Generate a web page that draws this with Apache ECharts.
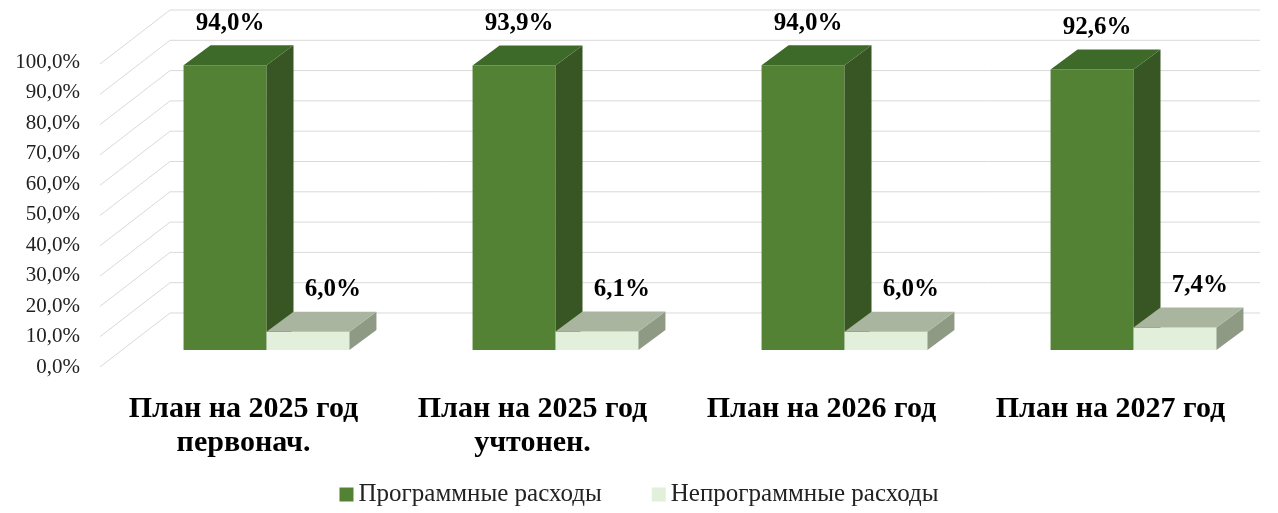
<!DOCTYPE html>
<html><head><meta charset="utf-8">
<script src="https://cdn.jsdelivr.net/npm/echarts@6/dist/echarts.min.js"></script>
<style>html,body{margin:0;padding:0;background:#fff}#c{width:1278px;height:513px}</style>
</head><body><div id="c"></div>
<script>
const categories = ['План на 2025 год\nпервонач.', 'План на 2025 год\nучтонен.', 'План на 2026 год', 'План на 2027 год'];
const programValues = [94.0, 93.9, 94.0, 92.6];
const nonProgramValues = [6.0, 6.1, 6.0, 7.4];
const tickValues = [0,10,20,30,40,50,60,70,80,90,100];
const seriesNames = ['Программные расходы', 'Непрограммные расходы'];

const FONT = '"Liberation Serif","Times New Roman",serif';
const styles = [
  {front:'#548235', side:'#375623', top:'#3e6a29', lab:5},
  {front:'#e2efda', side:'#8f9a85', top:'#aab5a0', lab:25}
];
const fmt = v => v.toFixed(1).replace('.', ',') + '%';

function barRenderer(s) {
  return function (params, api) {
    const cat = api.value(0), val = api.value(1);
    const top = api.coord([cat, val]);
    const base = api.coord([cat, 0]);
    const band = api.size([1, 0])[0];
    const w = band * 0.287;
    const x0 = top[0] - w + s * w;
    const yT = top[1], yB = base[1];
    const dx = 27, dy = 20;
    const st = styles[s];
    return {type:'group', children:[
      {type:'rect', shape:{x:x0, y:yT, width:w, height:yB-yT}, style:{fill:st.front}},
      {type:'polygon', shape:{points:[[x0+w,yT],[x0+w+dx,yT-dy],[x0+w+dx,yB-dy],[x0+w,yB]]}, style:{fill:st.side}},
      {type:'polygon', shape:{points:[[x0,yT],[x0+dx,yT-dy],[x0+w+dx,yT-dy],[x0+w,yT]]}, style:{fill:st.top}},
      {type:'text', style:{x:x0+w/2+st.lab, y:yT-42, text:fmt(val), align:'center', verticalAlign:'middle',
        font:'bold 25px '+FONT, fill:'#000'}}
    ]};
  };
}

const chart = echarts.init(document.getElementById('c'));
chart.setOption({
  animation:false,
  legend:{top:477, left:'center', itemWidth:14, itemHeight:14, itemGap:50, icon:'rect',
    data:seriesNames, textStyle:{fontFamily:FONT, fontSize:25, color:'#222'}},
  grid:[{left:122, right:0, top:47, bottom:163},
        {left:82, width:1, top:62, bottom:146}],
  xAxis:[{type:'category', data:categories, show:false, gridIndex:0},
         {type:'value', show:false, gridIndex:1}],
  yAxis:[{type:'value', min:0, max:100, show:false, gridIndex:0},
         {type:'value', min:0, max:100, interval:10, gridIndex:1, axisLine:{show:false}, axisTick:{show:false},
          splitLine:{show:false}, axisLabel:{formatter:fmt, fontFamily:FONT, fontSize:21, color:'#222', margin:2}}],
  series:[
    {type:'custom', silent:true, z:1, data:tickValues.map(v=>[0,v]),
     renderItem:(params, api)=>{
       const y = api.coord([0, api.value(1)])[1];
       const gx = params.coordSys.x;
       const st = {stroke:'#d9d9d9', lineWidth:1};
       return {type:'group', children:[
         {type:'line', shape:{x1:gx-22, y1:y+17, x2:gx+48, y2:y-37}, style:st},
         {type:'line', shape:{x1:gx+48, y1:y-37, x2:1260, y2:y-37}, style:st}
       ]};
     }},
    {type:'custom', silent:true, z:2, data:categories.map((c,i)=>[i,0]),
     renderItem:(params, api)=>{
       const p = api.coord([api.value(0), 0]);
       return {type:'text', style:{x:p[0]-23, y:p[1]+42, text:categories[params.dataIndex], align:'center',
         verticalAlign:'top', font:'bold 30px '+FONT, lineHeight:34, fill:'#000'}};
     }},
    {name:seriesNames[0], type:'custom', z:3, itemStyle:{color:styles[0].front},
     data:programValues.map((v,i)=>[i,v]), renderItem:barRenderer(0)},
    {name:seriesNames[1], type:'custom', z:3, itemStyle:{color:styles[1].front},
     data:nonProgramValues.map((v,i)=>[i,v]), renderItem:barRenderer(1)}
  ]
});
</script></body></html>
